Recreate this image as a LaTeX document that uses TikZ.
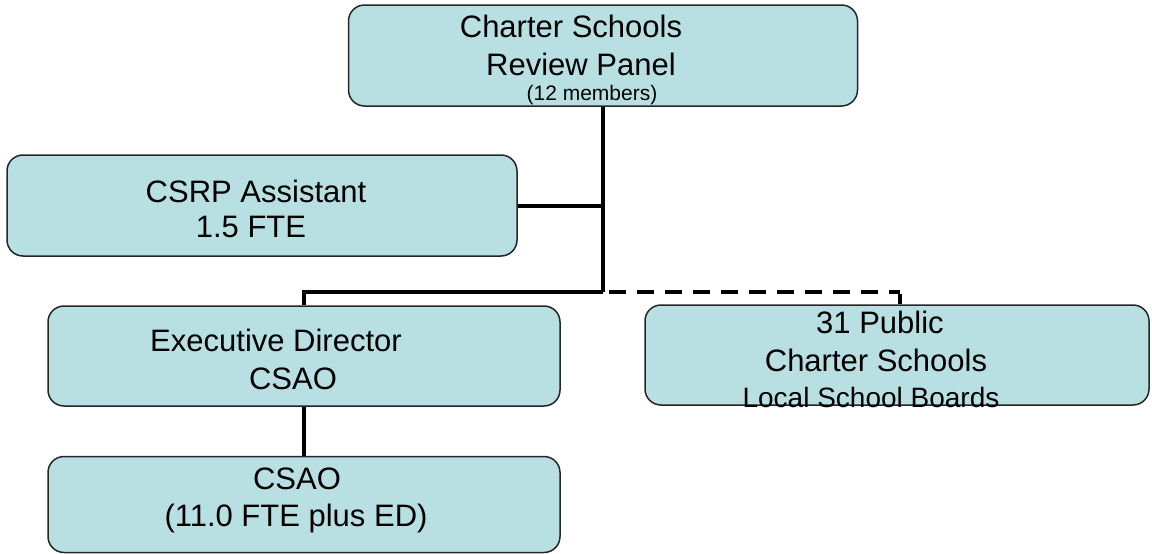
\documentclass[tikz,border=0pt]{standalone}
\usepackage{fontspec}
\setmainfont{Liberation Sans}
\definecolor{boxfill}{RGB}{184,223,226}
\begin{document}
\begin{tikzpicture}[x=1pt,y=-1pt,
  box/.style={draw=black!85,line width=1.5pt,fill=boxfill,rounded corners=16pt,inner sep=0pt},
  txt/.style={font=\fontsize{31}{37}\selectfont,anchor=base,inner sep=0pt},
  smalltxt/.style={font=\fontsize{21}{25}\selectfont,anchor=base,inner sep=0pt},
  midtxt/.style={font=\fontsize{28}{33}\selectfont,anchor=base,inner sep=0pt},
  conn/.style={line width=4pt,black},
  dconn/.style={line width=4pt,black,dash pattern=on 17pt off 11pt,dash phase=22pt}]
\useasboundingbox (0,0) rectangle (1152,554);
% boxes
\node[box,minimum width=509pt,minimum height=101pt] (panel) at (603,55.5) {};
\node[box,minimum width=510pt,minimum height=101pt] (csrp) at (262,205.5) {};
\node[box,minimum width=512pt,minimum height=100pt] (ed) at (304,356) {};
\node[box,minimum width=512pt,minimum height=96pt] (csao) at (304,504.5) {};
\node[box,minimum width=504pt,minimum height=100pt] (pub) at (897,355) {};
% texts
\node[txt] (p1) at (571,37) {Charter Schools};
\node[txt] (p2) at (581,75) {Review Panel};
\node[smalltxt] (p3) at (592,100) {(12 members)};
\node[txt] (c1) at (256,202) {CSRP Assistant};
\node[txt] (c2) at (251,237) {1.5 FTE};
\node[txt] (e1) at (276,351) {Executive Director};
\node[txt] (e2) at (293,389) {CSAO};
\node[txt] (s1) at (297,489) {CSAO};
\node[txt] (s2) at (296,526) {(11.0 FTE plus ED)};
\node[txt] (u1) at (880,333) {31 Public};
\node[txt] (u2) at (876,371) {Charter Schools};
\node[midtxt] (u3) at (871,407) {Local School Boards};
% junctions
\coordinate (j1) at (603,292);
\coordinate (jl) at (304,292);
\coordinate (jd) at (900,292);
% connectors
\draw[conn] (panel.south) -- (j1);
\draw[conn] (csrp.east) -- (csrp.east -| j1);
\draw[conn] (ed.north) -- (jl) -- (j1);
\draw[dconn] (j1) -- (jd);
\draw[conn] ([yshift=-2pt]jd) -- (jd |- pub.north);
\draw[conn] (ed.south) -- (csao.north);
\end{tikzpicture}
\end{document}
